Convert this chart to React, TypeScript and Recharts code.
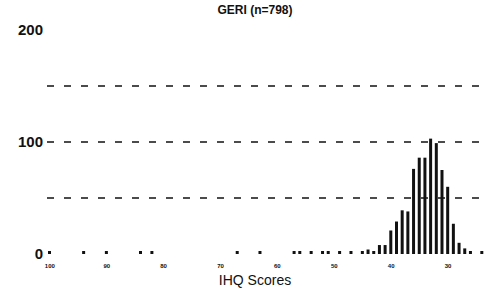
import React from 'react';
import { BarChart, Bar, XAxis, YAxis, CartesianGrid, Label } from 'recharts';

// IHQ score bins, high to low (one bin per point)
const scores = Array.from({ length: 77 }, (_, i) => 100 - i);

// number of subjects in each bin
const counts = [
  1, 0, 0, 0, 0, 0, 1, 0, 0, 0,
  1, 0, 0, 0, 0, 0, 1, 0, 1, 0,
  0, 0, 0, 0, 0, 0, 0, 0, 0, 0,
  0, 0, 0, 1, 0, 0, 0, 1, 0, 0,
  0, 0, 0, 1, 1, 0, 1, 0, 1, 1,
  0, 1, 0, 1, 0, 1, 4, 2, 8, 8,
  21, 29, 39, 38, 76, 86, 86, 103, 99, 75,
  60, 27, 10, 5, 2, 0, 1,
];

const xTicks = [100, 90, 80, 70, 60, 50, 40, 30];
const yTicks = [0, 100, 200];
const gridValues = [50, 100, 150];

const data = scores.map((s, i) => ({ score: s, count: counts[i] || null }));

const font = 'Arial, "Liberation Sans", Helvetica, sans-serif';

export default function App() {
  return (
    <div style={{ position: 'absolute', left: 0, top: 0, width: 489, height: 296, background: '#fff', fontFamily: font }}>
      <div
        style={{
          position: 'absolute', left: 0, width: 510, top: 3, textAlign: 'center',
          fontSize: 12, fontWeight: 'bold', color: '#111',
        }}
      >
        GERI (n=798)
      </div>
      <BarChart
        width={489}
        height={296}
        data={data}
        margin={{ top: 30, right: 4, left: 0, bottom: 12 }}
        barCategoryGap={1}
      >
        <CartesianGrid
          vertical={false}
          horizontalValues={gridValues}
          stroke="#111"
          strokeWidth={1.3}
          strokeDasharray="7 10"
        />
        <XAxis
          dataKey="score"
          ticks={xTicks}
          interval={0}
          axisLine={false}
          tickLine={false}
          tickMargin={4}
          height={30}
          tick={{ fontSize: 6, fontWeight: 'bold', fill: '#111', fontFamily: font }}
        >
          <Label
            value="IHQ Scores"
            position="insideBottom"
            offset={-1}
            dx={-11}
            style={{ fontSize: 14, fill: '#111', fontFamily: font }}
          />
        </XAxis>
        <YAxis
          domain={[0, 200]}
          ticks={yTicks}
          width={47}
          axisLine={false}
          tickLine={false}
          tickSize={4}
          tickMargin={0}
          tick={{ fontSize: 15, fontWeight: 'bold', fill: '#111', fontFamily: font }}
        />
        <Bar
          dataKey="count"
          fill="#111"
          barSize={3}
          minPointSize={(v: number) => (v ? 3 : 0)}
          isAnimationActive={false}
        />
      </BarChart>
    </div>
  );
}
